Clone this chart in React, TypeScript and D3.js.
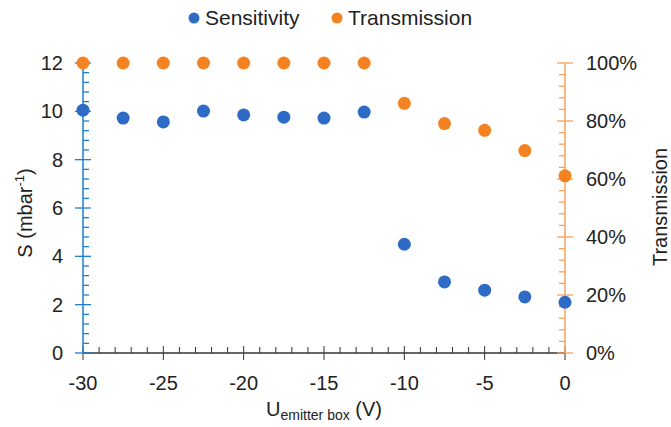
import React, { useRef, useEffect } from 'react';
import * as d3 from 'd3';

// chart data
const voltages = [-30, -27.5, -25, -22.5, -20, -17.5, -15, -12.5, -10, -7.5, -5, -2.5, 0];
const sensitivity = [10.05, 9.72, 9.56, 10.01, 9.85, 9.76, 9.72, 9.97, 4.5, 2.94, 2.6, 2.32, 2.1];
const transmission = [1, 1, 1, 1, 1, 1, 1, 1, 0.861, 0.791, 0.768, 0.698, 0.611];
const xTicks = [-30, -25, -20, -15, -10, -5, 0];
const sTicks = [0, 2, 4, 6, 8, 10, 12];
const tTicks = [0, 0.2, 0.4, 0.6, 0.8, 1];

const blue = '#2E6BC6';
const orange = '#F58220';
const blueAxis = '#1F7FD0';
const orangeAxis = '#F7A35C';
const font = '"Liberation Sans", Arial, sans-serif';

const App = () => {
  const ref = useRef(null);
  const width = 671;
  const height = 427;

  useEffect(() => {
    const margin = { top: 63, right: 106, bottom: 74, left: 83 };
    const svg = d3.select(ref.current);
    svg.selectAll('*').remove();

    const x = d3.scaleLinear().domain([-30, 0]).range([margin.left, width - margin.right]);
    const yS = d3.scaleLinear().domain([0, 12]).range([height - margin.bottom, margin.top]);
    const yT = d3.scaleLinear().domain([0, 1]).range([height - margin.bottom, margin.top]);
    const x0 = x(-30), x1 = x(0), yb = yS(0);

    // x axis, minor ticks every 1 V (upwards), major every 5 V (both ways)
    const gx = svg.append('g');
    gx.append('line').attr('x1', x0).attr('x2', x1).attr('y1', yb).attr('y2', yb)
      .attr('stroke', '#333').attr('stroke-width', 1.3);
    gx.selectAll('.tick').data(d3.range(-30, 1, 1)).enter().append('line')
      .attr('x1', d => x(d)).attr('x2', d => x(d))
      .attr('y1', d => (d % 5 === 0 ? yb + 7 : yb))
      .attr('y2', d => (d % 5 === 0 ? yb - 7 : yb - 6))
      .attr('stroke', '#333').attr('stroke-width', 1);
    gx.selectAll('text').data(xTicks).enter().append('text')
      .attr('x', d => x(d)).attr('y', yb + 37)
      .attr('text-anchor', 'middle').attr('font-family', font).attr('font-size', 20)
      .attr('fill', '#222').text(d => d);

    // left axis (sensitivity)
    const gl = svg.append('g');
    gl.append('line').attr('x1', x0).attr('x2', x0).attr('y1', yS(0)).attr('y2', yS(12))
      .attr('stroke', blueAxis).attr('stroke-width', 1.5);
    gl.selectAll('.tick').data(d3.range(0, 31, 1)).enter().append('line')
      .attr('x1', (d, i) => (i % 5 === 0 ? x0 - 8 : x0))
      .attr('x2', (d, i) => (i % 5 === 0 ? x0 + 8 : x0 + 6))
      .attr('y1', d => yS(d * 0.4)).attr('y2', d => yS(d * 0.4))
      .attr('stroke', blueAxis).attr('stroke-width', 1.3);
    gl.selectAll('text').data(sTicks).enter().append('text')
      .attr('x', x0 - 20).attr('y', d => yS(d) + 7)
      .attr('text-anchor', 'end').attr('font-family', font).attr('font-size', 20)
      .attr('fill', '#222').text(d => d);

    // right axis (transmission)
    const gr = svg.append('g');
    gr.append('line').attr('x1', x1).attr('x2', x1).attr('y1', yT(0)).attr('y2', yT(1))
      .attr('stroke', orangeAxis).attr('stroke-width', 1.5);
    gr.selectAll('.tick').data(d3.range(0, 26, 1)).enter().append('line')
      .attr('x1', (d, i) => (i % 5 === 0 ? x1 - 8 : x1 - 6))
      .attr('x2', (d, i) => (i % 5 === 0 ? x1 + 8 : x1))
      .attr('y1', d => yT(d / 25)).attr('y2', d => yT(d / 25))
      .attr('stroke', orangeAxis).attr('stroke-width', 1.3);
    gr.selectAll('text').data(tTicks).enter().append('text')
      .attr('x', x1 + 21).attr('y', d => yT(d) + 7)
      .attr('text-anchor', 'start').attr('font-family', font).attr('font-size', 20)
      .attr('fill', '#222').text(d => d3.format('.0%')(d));

    // points
    svg.append('g').selectAll('circle').data(voltages).enter().append('circle')
      .attr('cx', d => x(d)).attr('cy', (d, i) => yT(transmission[i])).attr('r', 6.5)
      .attr('fill', orange);
    svg.append('g').selectAll('circle').data(voltages).enter().append('circle')
      .attr('cx', d => x(d)).attr('cy', (d, i) => yS(sensitivity[i])).attr('r', 6.5)
      .attr('fill', blue);

    // axis titles
    const st = svg.append('text')
      .attr('transform', `translate(32,${(yS(0) + yS(12)) / 2 + 5}) rotate(-90)`)
      .attr('text-anchor', 'middle').attr('font-family', font).attr('font-size', 20).attr('fill', '#222');
    st.append('tspan').text('S (mbar');
    st.append('tspan').attr('font-size', 13).attr('dy', -8).text('-1');
    st.append('tspan').attr('dy', 8).text(')');

    svg.append('text')
      .attr('transform', `translate(667,${(yT(0) + yT(1)) / 2 - 1}) rotate(-90)`)
      .attr('text-anchor', 'middle').attr('font-family', font).attr('font-size', 20)
      .attr('fill', '#222').text('Transmission');

    const xt = svg.append('text')
      .attr('x', (x0 + x1) / 2).attr('y', yb + 63)
      .attr('text-anchor', 'middle').attr('font-family', font).attr('font-size', 20).attr('fill', '#222');
    xt.append('tspan').text('U');
    xt.append('tspan').attr('font-size', 14).attr('dy', 4).text('emitter box');
    xt.append('tspan').attr('dy', -4).text(' (V)');

    // legend
    const legend = [
      { label: 'Sensitivity', color: blue, x: 194 },
      { label: 'Transmission', color: orange, x: 337 },
    ];
    const lg = svg.append('g').selectAll('g').data(legend).enter().append('g');
    lg.append('circle').attr('cx', d => d.x).attr('cy', 18).attr('r', 5.5).attr('fill', d => d.color);
    lg.append('text').attr('x', d => d.x + 11).attr('y', 25)
      .attr('font-family', font).attr('font-size', 21).attr('fill', '#222').text(d => d.label);
  });

  return (
    <div style={{ position: 'absolute', left: 0, top: 0 }}>
      <svg ref={ref} width={width} height={height} style={{ display: 'block', background: '#fff' }} />
    </div>
  );
};

export default App;
